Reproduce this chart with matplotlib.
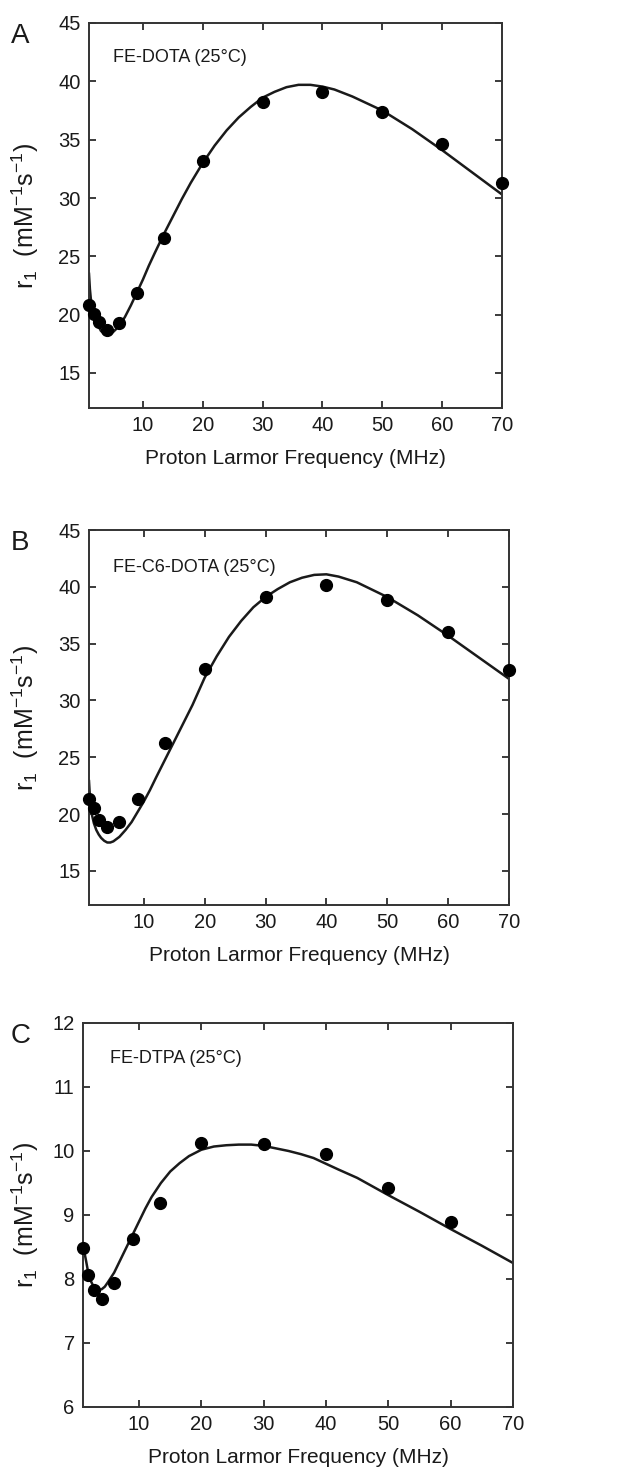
#!/usr/bin/env python3
import numpy as np
import matplotlib
matplotlib.use('Agg')
import matplotlib.pyplot as plt

plt.rcParams['font.family'] = ['Liberation Sans', 'DejaVu Sans']
plt.rcParams['mathtext.fontset'] = 'custom'
plt.rcParams['mathtext.rm'] = 'Liberation Sans'
plt.rcParams['mathtext.it'] = 'Liberation Sans:italic'

# Measured points (MHz, r1)
freq = [1, 1.8, 2.6, 4, 6, 9, 13.5, 20, 30, 40, 50, 60, 70]
r1_dota = [20.8, 20.1, 19.4, 18.7, 19.3, 21.9, 26.6, 33.2, 38.2, 39.1, 37.4, 34.6, 31.3]
r1_c6dota = [21.3, 20.5, 19.5, 18.9, 19.3, 21.3, 26.3, 32.8, 39.1, 40.2, 38.8, 36.0, 32.7]
freq_dtpa = [1, 1.85, 2.7, 4, 6, 9, 13.4, 20, 30, 40, 50, 60]
r1_dtpa = [8.48, 8.06, 7.83, 7.69, 7.94, 8.62, 9.18, 10.13, 10.11, 9.96, 9.42, 8.89]

# Fitted curves
fit_x = [1, 1.15, 1.3, 1.5, 1.8, 2.2, 2.6, 3, 3.5, 4, 4.5, 5, 6, 7, 8, 9, 10, 11, 12, 13.5,
         15, 16.5, 18, 20, 22, 24, 26, 28, 30, 32, 34, 36, 38, 40, 42, 45, 50, 55, 60, 65, 70]
fit_dota = [23.5, 22.2, 21.4, 20.7, 20.0, 19.4, 19.0, 18.6, 18.4, 18.3, 18.35, 18.5, 19.0,
            19.8, 20.8, 21.9, 23.0, 24.2, 25.3, 26.9, 28.4, 29.9, 31.3, 33.0, 34.5, 35.8,
            36.9, 37.8, 38.6, 39.1, 39.5, 39.7, 39.7, 39.55, 39.3, 38.7, 37.5, 35.9, 34.1,
            32.2, 30.3]
fit_c6dota = [22.9, 21.5, 20.6, 19.9, 19.2, 18.6, 18.2, 17.9, 17.65, 17.5, 17.5, 17.6, 18.0,
              18.6, 19.3, 20.2, 21.1, 22.1, 23.2, 24.8, 26.4, 28.0, 29.6, 32.0, 33.9, 35.6,
              37.0, 38.2, 39.1, 39.8, 40.4, 40.8, 41.05, 41.1, 40.9, 40.4, 39.1, 37.5, 35.7,
              33.8, 31.9]
fit_dtpa = [8.5, 8.45, 8.38, 8.28, 8.12, 7.98, 7.9, 7.86, 7.83, 7.84, 7.88, 7.95, 8.1,
            8.3, 8.5, 8.7, 8.9, 9.1, 9.28, 9.5, 9.68, 9.81, 9.92, 10.02, 10.07, 10.09,
            10.1, 10.1, 10.08, 10.04, 10.0, 9.95, 9.89, 9.8, 9.71, 9.58, 9.31, 9.05, 8.78,
            8.52, 8.25]

ink = '#1a1a1a'
xlabel = 'Proton Larmor Frequency (MHz)'
ylabel = r'r$_{\mathregular{1}}$  (mM$^{\mathregular{-1}}$s$^{\mathregular{-1}}$)'

panels = [
    # (rect, letter, label, px, py, x, y, fx, fy, ylim, yticks)
    ([89 / 617, 1 - 408 / 1471, 413 / 617, 385 / 1471], 'A', 'FE-DOTA (25°C)', 5.0, 42.0,
     freq, r1_dota, fit_x, fit_dota, (12, 45), [15, 20, 25, 30, 35, 40, 45]),
    ([89 / 617, 1 - 905 / 1471, 420 / 617, 375 / 1471], 'B', 'FE-C6-DOTA (25°C)', 5.0, 41.7,
     freq, r1_c6dota, fit_x, fit_c6dota, (12, 45), [15, 20, 25, 30, 35, 40, 45]),
    ([83 / 617, 1 - 1407 / 1471, 430 / 617, 384 / 1471], 'C', 'FE-DTPA (25°C)', 5.3, 11.45,
     freq_dtpa, r1_dtpa, fit_x, fit_dtpa, (6, 12), [6, 7, 8, 9, 10, 11, 12]),
]

fig = plt.figure(figsize=(6.17, 14.71), dpi=100)

for rect, letter, name, px, py, x, y, fx, fy, ylim, yticks in panels:
    ax = fig.add_axes(rect)
    ax.plot(fx, fy, color=ink, lw=1.8, zorder=2)
    ax.plot(x, y, 'o', color='black', ms=8.5, zorder=3, clip_on=False)
    ax.set_xlim(1, 70)
    ax.set_ylim(*ylim)
    ax.set_xticks([10, 20, 30, 40, 50, 60, 70])
    ax.set_yticks(yticks)
    ax.tick_params(direction='in', length=5, width=1.2, top=True, right=True,
                   labelsize=14.5, colors=ink, pad=6)
    for s in ax.spines.values():
        s.set_linewidth(1.4)
        s.set_color('#333333')
    ax.set_xlabel(xlabel, fontsize=15, color=ink, labelpad=10)
    ax.set_ylabel(ylabel, fontsize=18, color=ink)
    ax.yaxis.set_label_coords((41 - rect[0] * 617) / (rect[2] * 617), 0.5)
    ax.text(px, py, name, fontsize=13, color=ink, ha='left', va='center')
    ax.text(-0.19 * 413 / (rect[2] * 617) - (rect[0] * 617 - 89) / (rect[2] * 617), 1.0,
            letter, transform=ax.transAxes, fontsize=20, color=ink, ha='left', va='top')

fig.savefig('out.png', dpi=100, facecolor='white')
